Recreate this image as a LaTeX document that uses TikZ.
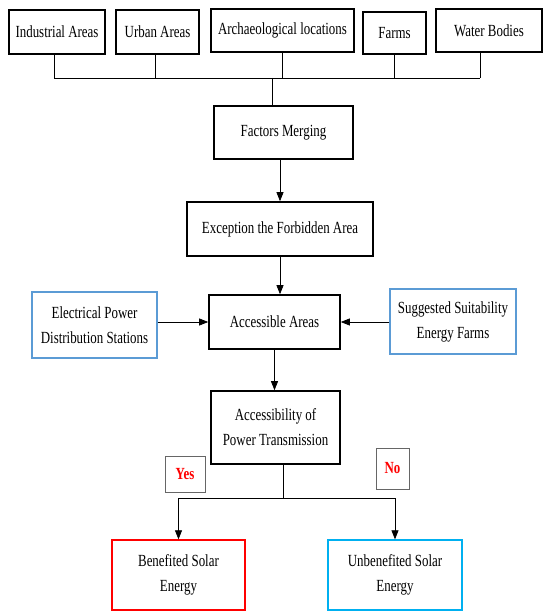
\documentclass[tikz,border=0pt]{standalone}
\usepackage{fontspec}
\setmainfont[FakeStretch=0.76]{Liberation Serif}
\usetikzlibrary{arrows.meta}
\definecolor{lblue}{RGB}{91,155,213}
\definecolor{cyanb}{RGB}{0,176,240}

\begin{document}
\begin{tikzpicture}[x=1pt,y=-1pt,
	font=\fontsize{17}{25}\selectfont,
	box/.style={draw,line width=1.6pt,align=center,inner sep=0pt},
	bluebox/.style={box,draw=lblue,line width=1.3pt},
	tag/.style={draw=gray!80!black,line width=0.8pt,text=red,inner sep=0pt,font=\fontsize{17}{25}\selectfont\bfseries},
	line/.style={line width=0.7pt},
	arr/.style={line,-{Triangle[length=9pt,width=7pt]}}]
	\useasboundingbox (0,0) rectangle (542,612);
	% factors
	\foreach \n/\cx/\cy/\w/\h/\t in {ind/57/32/96/44/Industrial Areas,urb/157.5/32/83/44/Urban Areas,arc/282.5/30.5/143/43/Archaeological locations,frm/394.5/33/63/42/Farms,wat/489/30.5/106/43/Water Bodies}
		\node[box,minimum width=\w pt,minimum height=\h pt] (\n) at (\cx,\cy) {\t};
	\node[box,minimum width=139pt,minimum height=53pt] (fac) at (283.5,132.5) {Factors Merging};
	\node[box,minimum width=186pt,minimum height=54pt] (exc) at (280,229) {Exception the Forbidden Area};
	\node[box,minimum width=131pt,minimum height=54pt] (acc) at (274.5,322) {Accessible Areas};
	\node[bluebox,minimum width=125pt,minimum height=66pt] (elec) at (94.5,325) {Electrical Power\\Distribution Stations};
	\node[bluebox,minimum width=126pt,minimum height=65pt] (sug) at (453,321.5) {Suggested Suitability\\Energy Farms};
	\node[box,minimum width=129pt,minimum height=73pt] (pow) at (275.5,427.5) {Accessibility of\\Power Transmission};
	\node[tag,minimum width=40pt,minimum height=36pt] (yes) at (185,474) {Yes};
	\node[tag,minimum width=33pt,minimum height=41pt] (no) at (392.5,468.5) {No};
	\node[box,draw=red,line width=1.3pt,minimum width=133pt,minimum height=70pt] (ben) at (178.5,575) {Benefited Solar\\Energy};
	\node[box,draw=cyanb,line width=1.3pt,minimum width=134pt,minimum height=70pt] (unb) at (395,575) {Unbenefited Solar\\Energy};

	% connectors
	\coordinate (bus) at (272,78);
	\foreach \n/\dx in {ind/-3,urb/-2,arc/0,frm/0,wat/-9}
		\draw[line] ([xshift=\dx pt]\n.south) -- ([xshift=\dx pt]\n.south |- bus);
	\draw[line] ([xshift=-3pt]ind.south |- bus) -- ([xshift=-9pt]wat.south |- bus);
	\draw[line] (bus) -- (bus |- fac.north);
	\draw[arr] (fac.south -| exc.north) -- (exc.north);
	\draw[arr] (exc.south) -- (exc.south |- acc.north);
	\draw[arr] (elec.east |- acc.west) -- (acc.west);
	\draw[arr] (sug.west |- acc.east) -- (acc.east);
	\draw[arr] (acc.south) -- (acc.south |- pow.north);
	\coordinate (split) at (283,498);
	\draw[line] (split |- pow.south) -- (split);
	\draw[line] (ben.north |- split) -- (unb.north |- split);
	\draw[arr] (ben.north |- split) -- (ben.north);
	\draw[arr] (unb.north |- split) -- (unb.north);
\end{tikzpicture}
\end{document}
